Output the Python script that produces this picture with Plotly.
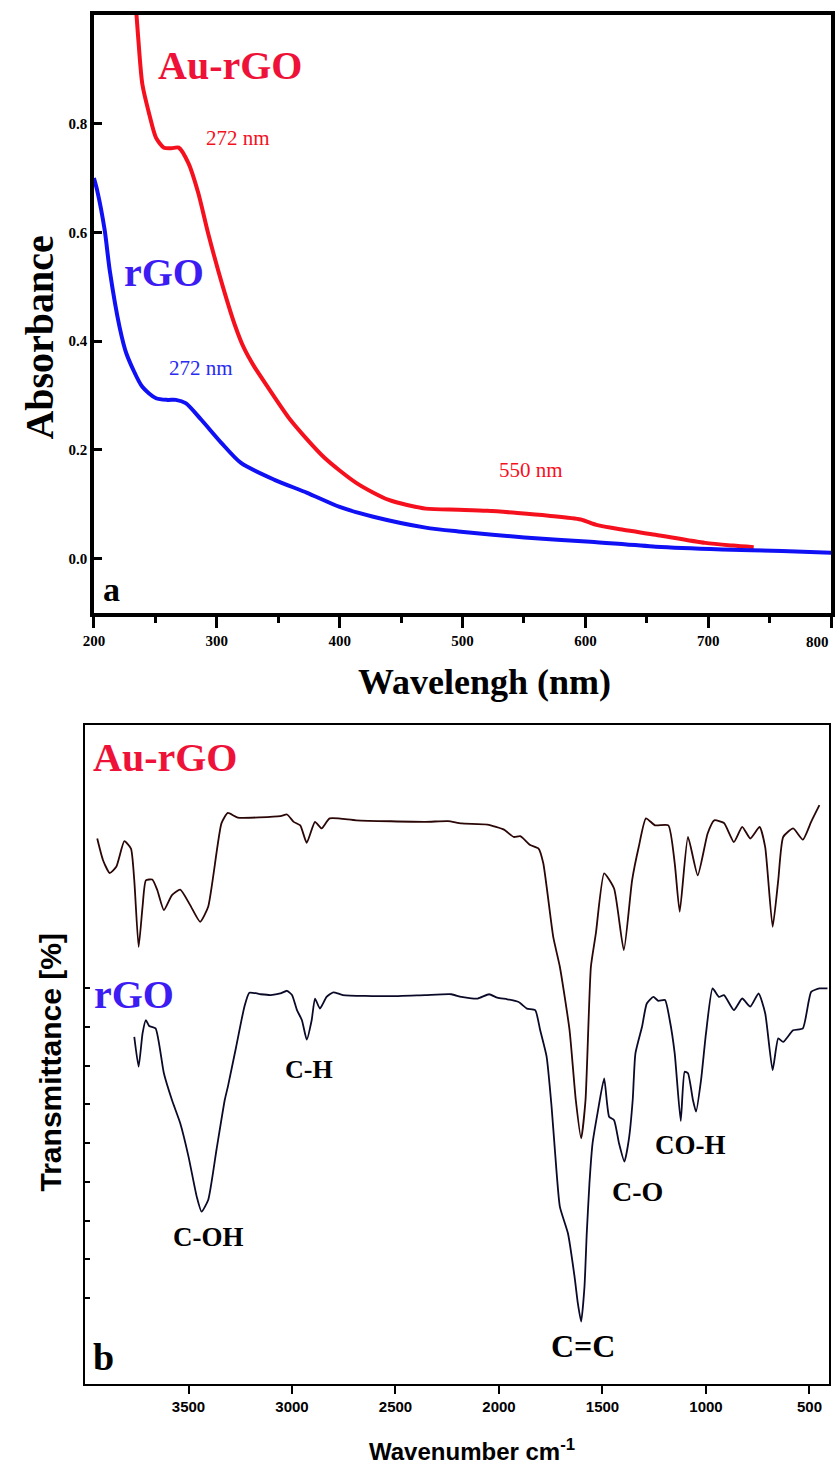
import plotly.graph_objects as go

# ---------------- Panel a: UV-Vis ----------------
uv_au_x = [234, 236, 239.4, 245, 250.6, 257, 263, 269, 277, 285, 293, 305, 315, 322, 330,
           341.4, 360, 387, 413.8, 440, 470, 496.6, 520, 544.8, 570, 596.2, 609, 630.8, 657,
           697.5, 720, 737]
uv_au_y = [1.02, 0.96, 0.873, 0.818, 0.774, 0.756, 0.755, 0.756, 0.727, 0.672, 0.598, 0.50, 0.428,
           0.388, 0.355, 0.316, 0.255, 0.187, 0.139, 0.108, 0.092, 0.090, 0.088, 0.084, 0.079,
           0.072, 0.062, 0.053, 0.044, 0.029, 0.024, 0.021]

uv_rgo_x = [200, 202.7, 208.8, 212.9, 220.9, 226.5, 239.4, 250.6, 260, 266.7, 274.7, 287.6, 303.7,
            319.7, 347, 373.6, 400, 427.4, 470, 496.6, 550.4, 604, 657.3, 711, 760, 800]
uv_rgo_y = [0.70, 0.677, 0.604, 0.530, 0.426, 0.377, 0.316, 0.295, 0.292, 0.292, 0.286, 0.255, 0.213,
            0.176, 0.145, 0.121, 0.095, 0.077, 0.057, 0.050, 0.039, 0.031, 0.022, 0.017, 0.014, 0.011]

uv_xticks = [200, 300, 400, 500, 600, 700, 800]
uv_xticklabels = ["200", "300", "400", "500", "600", "700", ""]
uv_last_label = "800"
uv_yticks = [0.0, 0.2, 0.4, 0.6, 0.8]
uv_yticklabels = ["0.0", "0.2", "0.4", "0.6", "0.8"]

# ---------------- Panel b: FTIR ----------------
ir_au_x = [3941, 3913, 3881, 3849, 3810, 3778, 3762, 3741, 3722, 3706, 3675, 3651, 3619, 3580,
           3540, 3492, 3444, 3405, 3341, 3310, 3262, 3056, 3024, 2992, 2960, 2929, 2889, 2857,
           2818, 2690, 2357, 2246, 2182, 2056, 1976, 1929, 1897, 1849, 1809, 1786, 1738, 1706,
           1659, 1629, 1603, 1582, 1556, 1532, 1492, 1444, 1397, 1357, 1325, 1290, 1246, 1182,
           1151, 1127, 1087, 1040, 992, 960, 913, 865, 825, 786, 741, 714, 678, 651, 627, 579,
           532, 492, 452]
ir_au_y = [138.6, 133.0, 129.7, 131.3, 137.9, 136.0, 127.8, 110.6, 121.0, 127.8, 128.0, 125.3,
           120.1, 124.0, 125.4, 121.4, 117.1, 121.0, 142.5, 145.2, 144.0, 144.4, 144.8, 142.9,
           142.0, 137.5, 142.9, 141.2, 143.8, 143.3, 142.9, 143.1, 142.5, 142.2, 140.9, 139.0,
           139.2, 136.9, 136.0, 132.2, 113.2, 105.5, 89.1, 71.1, 61.2, 71.1, 105.5, 114.1, 129.6,
           125.7, 109.8, 127.8, 136.4, 143.8, 142.0, 142.0, 132.2, 119.7, 139.0, 129.1, 139.9,
           143.3, 142.6, 137.7, 141.6, 138.6, 141.6, 136.4, 115.8, 127.8, 139.0, 141.2, 138.3,
           142.9, 147.2]

ir_rgo_x = [3762, 3741, 3722, 3706, 3690, 3659, 3619, 3580, 3540, 3500, 3460, 3437, 3405, 3365,
            3325, 3310, 3270, 3230, 3206, 3151, 3103, 3056, 3024, 3000, 2976, 2952, 2929, 2905,
            2889, 2865, 2833, 2801, 2754, 2532, 2357, 2230, 2182, 2103, 2048, 2008, 1960, 1905,
            1865, 1825, 1801, 1770, 1746, 1730, 1706, 1667, 1635, 1619, 1603, 1587, 1576, 1563,
            1548, 1524, 1492, 1468, 1444, 1420, 1394, 1373, 1354, 1341, 1309, 1286, 1254, 1230,
            1198, 1175, 1151, 1122, 1103, 1087, 1063, 1048, 1024, 1000, 968, 937, 913, 865, 825,
            786, 746, 714, 678, 651, 627, 579, 532, 492, 452, 413]
ir_rgo_y = [87.4, 79.7, 88.3, 91.7, 90.2, 89.6, 78.0, 71.1, 65.1, 56.5, 46.1, 42.3, 45.3, 58.2,
            71.1, 74.5, 84.8, 95.2, 98.8, 98.4, 98.2, 98.6, 99.3, 98.2, 94.3, 91.7, 86.7, 91.7,
            97.3, 94.7, 97.7, 98.9, 98.2, 97.9, 98.2, 98.4, 97.7, 97.3, 98.4, 97.5, 97.1, 96.4,
            94.7, 94.3, 89.1, 82.3, 69.4, 58.2, 43.6, 36.7, 25.5, 18.6, 13.9, 22.9, 36.7, 49.6,
            59.9, 67.7, 76.7, 66.8, 65.9, 59.9, 55.2, 60.8, 71.1, 83.1, 90.0, 96.0, 97.7, 96.7,
            96.9, 91.7, 83.1, 65.7, 78.4, 78.0, 71.1, 68.1, 76.2, 88.3, 99.9, 97.7, 98.2, 94.3,
            97.3, 95.2, 98.6, 93.5, 78.8, 87.0, 86.1, 89.1, 89.6, 99.0, 99.9, 99.9]

ir_xticks = [3500, 3000, 2500, 2000, 1500, 1000, 500]
ir_yticks = [20, 30, 40, 50, 60, 70, 80, 90, 100]

SERIF = "Liberation Serif"
SANS = "Liberation Sans"
RED = "#f5101e"
BLUE = "#1010f5"
LBL_RED = "#ee1238"
LBL_BLUE = "#3c1cf2"

fig = go.Figure()

fig.add_trace(go.Scatter(x=uv_au_x, y=uv_au_y, mode="lines", line=dict(color=RED, width=4, shape="spline", smoothing=0.7),
                         xaxis="x", yaxis="y", showlegend=False))
fig.add_trace(go.Scatter(x=uv_rgo_x, y=uv_rgo_y, mode="lines", line=dict(color=BLUE, width=4, shape="spline", smoothing=0.7),
                         xaxis="x", yaxis="y", showlegend=False))

fig.add_trace(go.Scatter(x=ir_au_x, y=ir_au_y, mode="lines", line=dict(color="#2a0606", width=1.8, shape="spline", smoothing=0.5),
                         xaxis="x2", yaxis="y2", showlegend=False))
fig.add_trace(go.Scatter(x=ir_rgo_x, y=ir_rgo_y, mode="lines", line=dict(color="#0a0a28", width=1.8, shape="spline", smoothing=0.5),
                         xaxis="x2", yaxis="y2", showlegend=False))

fig.update_layout(
    width=840, height=1466,
    margin=dict(l=0, r=0, t=0, b=0),
    paper_bgcolor="white", plot_bgcolor="white",
    xaxis=dict(domain=[84/840, 831/840], anchor="y", range=[200, 800],
               tickvals=uv_xticks, ticktext=uv_xticklabels, ticks="outside", ticklen=11, tickwidth=2.5, tickcolor="black",
               minor=dict(ticks="outside", ticklen=6, tickwidth=2.5, tickcolor="black", dtick=50, showgrid=False),
               showline=True, linewidth=3.5, linecolor="black", mirror=True, showgrid=False, zeroline=False,
               tickfont=dict(family=SERIF, size=15, color="black", weight="bold")),
    yaxis=dict(domain=[1 - 613/1466, 1 - 15/1466], anchor="x", range=[-0.1, 1.0],
               tickvals=uv_yticks, ticktext=uv_yticklabels, ticks="inside", ticklen=8, tickwidth=2.5, tickcolor="black",
               showline=True, linewidth=3.5, linecolor="black", mirror=True, showgrid=False, zeroline=False,
               tickfont=dict(family=SERIF, size=15, color="black", weight="bold")),
    xaxis2=dict(domain=[75/840, 829/840], anchor="y2", range=[4000, 405],
                tickvals=ir_xticks, ticks="outside", ticklen=8, tickwidth=2, tickcolor="black",
                showline=True, linewidth=2, linecolor="black", mirror=True, showgrid=False, zeroline=False,
                tickfont=dict(family=SANS, size=15, color="black", weight="bold")),
    yaxis2=dict(domain=[1 - 1384/1466, 1 - 725/1466], anchor="x2", range=[-2.2, 167.9],
                tickvals=ir_yticks, showticklabels=False, ticks="inside", ticklen=5, tickwidth=1.5, tickcolor="black",
                showline=True, linewidth=2, linecolor="black", mirror=True, showgrid=False, zeroline=False),
)

ann = []
def txt(text, x, y, size, color="black", family=SERIF, bold=True, xref="x", yref="y", angle=0,
        xanchor="center", yanchor="middle"):
    ann.append(dict(text=text, x=x, y=y, xref=xref, yref=yref, showarrow=False, textangle=angle,
                    xanchor=xanchor, yanchor=yanchor,
                    font=dict(family=family, size=size, color=color, weight="bold" if bold else "normal")))

# last x tick label of panel a, kept inside the page
txt(uv_last_label, 800, 1 - 642/1466, 15, xref="x", yref="paper", xanchor="right")

# Panel a texts
txt("Au-rGO", 310.9, 0.908, 40, LBL_RED)
txt("rGO", 257, 0.527, 40, LBL_BLUE)
txt("272 nm", 317.3, 0.774, 21, RED, bold=False)
txt("272 nm", 286.8, 0.350, 21, "#2a2af0", bold=False)
txt("550 nm", 556, 0.163, 21, RED, bold=False)
txt("a", 214.5, -0.057, 34)
txt("Absorbance", 29/840, 1 - 338/1466, 40, xref="paper", yref="paper", angle=-90)
txt("Wavelengh (nm)", 480/840, 1 - 682/1466, 36, xref="paper", yref="paper")

# Panel b texts
txt("Au-rGO", 3614, 159.6, 40, LBL_RED, xref="x2", yref="y2")
txt("rGO", 3762, 98.4, 40, LBL_BLUE, xref="x2", yref="y2")
txt("C-H", 2919, 79.1, 26, xref="x2", yref="y2")
txt("C-OH", 3405, 35.7, 27, xref="x2", yref="y2")
txt("C-O", 1333, 47.6, 28, xref="x2", yref="y2")
txt("CO-H", 1076, 59.5, 27, xref="x2", yref="y2")
txt("C=C", 1595, 7.6, 32, xref="x2", yref="y2")
txt("b", 3910, 4.8, 38, xref="x2", yref="y2")
txt("Transmittance [%]", 40/840, 1 - 1062/1466, 30, family=SANS, xref="paper", yref="paper", angle=-90)
txt("Wavenumber cm<sup>-1</sup>", 467/840, 1 - 1450/1466, 24, family=SANS, xref="paper", yref="paper")

fig.update_layout(annotations=ann)
fig.write_html("out.html")
